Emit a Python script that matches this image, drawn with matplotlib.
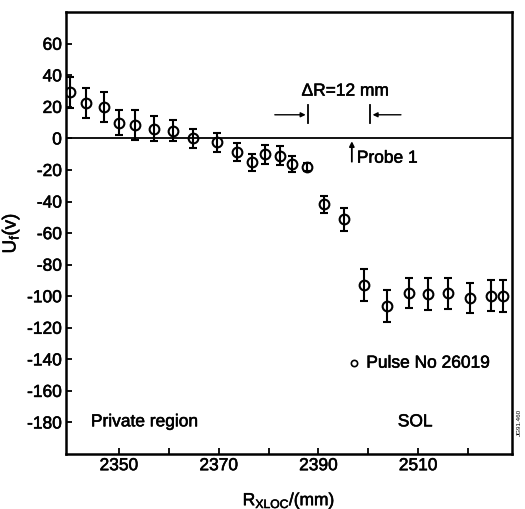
import matplotlib
matplotlib.use("Agg")
import matplotlib.pyplot as plt
import matplotlib.patheffects as pe

plt.rcParams['font.family'] = ['Liberation Sans', 'DejaVu Sans']
plt.rcParams['axes.unicode_minus'] = False

# radial position (mm) and floating potential (V)
r_mm = [2340.2, 2343.5, 2347.0, 2350.1, 2353.3, 2357.1, 2360.9, 2364.9, 2369.6,
        2373.6, 2376.7, 2379.3, 2382.3, 2384.8, 2387.8, 2391.1, 2395.2, 2399.2,
        2403.8, 2408.2, 2411.9, 2415.9, 2420.4, 2424.6, 2427.0]
u_f = [29.2, 22.7, 20.2, 10.1, 8.8, 6.1, 5.0, 0.2, -2.3,
       -8.6, -15.0, -9.9, -10.9, -16.0, -18.1, -41.8, -51.3, -92.9,
       -106.4, -98.0, -98.6, -98.2, -101.1, -99.7, -99.7]
u_err = [10.0, 9.5, 9.5, 8.0, 9.5, 8.0, 6.5, 6.0, 6.0,
         5.5, 5.4, 6.0, 6.0, 5.0, 2.6, 5.3, 7.3, 10.0,
         10.2, 9.5, 10.0, 10.0, 9.3, 9.7, 10.3]

x_ticks = [2350, 2360, 2370, 2380, 2390, 2400, 2410, 2420]
x_ticklabels = ['2350', '', '2370', '', '2390', '', '2510', '']
y_ticks = [60, 40, 20, 0, -20, -40, -60, -80, -100, -120, -140, -160, -180]

# scanned print looks heavy, thicken the glyphs a little
heavy = [pe.withStroke(linewidth=0.4, foreground='black')]
fs = 12.5

fig = plt.figure(figsize=(5.25, 5.09), dpi=100)
ax = fig.add_axes([0.1257, 0.108, 0.8495, 0.868])

ax.axhline(0, color='black', lw=1.3, zorder=1)
ax.errorbar(r_mm, u_f, yerr=u_err, fmt='o', ms=7, mfc='none', mec='black',
            mew=1.5, ecolor='black', elinewidth=1.5, capsize=3, capthick=1.5,
            color='black', zorder=3)

ax.set_xlim(2339.4, 2428.8)
ax.set_ylim(-200, 80)
ax.set_xticks(x_ticks)
ax.set_xticklabels(x_ticklabels)
ax.set_yticks(y_ticks)
ax.set_yticklabels([str(v) for v in y_ticks])
ax.tick_params(direction='in', length=4, width=1.3, labelsize=fs, pad=3)
for lab in ax.get_xticklabels() + ax.get_yticklabels():
    lab.set_path_effects(heavy)
for s in ax.spines.values():
    s.set_linewidth(1.8)

ax.set_ylabel('U$_\\mathregular{f}$(v)', fontsize=13.5, labelpad=4, path_effects=heavy)
ax.set_xlabel('R$_\\mathregular{XLOC}$/(mm)', fontsize=12.5, labelpad=13, path_effects=heavy)

# delta R annotation
ax.text(2395.4, 30, '\u0394R=12 mm', ha='center', va='center', fontsize=fs, path_effects=heavy)
ax.annotate('', xy=(2388.0, 15), xytext=(2380.7, 15),
            arrowprops=dict(arrowstyle='-|>', color='black', lw=1, mutation_scale=7))
ax.annotate('', xy=(2400.3, 15), xytext=(2407.1, 15),
            arrowprops=dict(arrowstyle='-|>', color='black', lw=1, mutation_scale=7))
ax.plot([2388.0, 2388.0], [9.5, 21.5], color='black', lw=1.3)
ax.plot([2400.3, 2400.3], [9.5, 21.5], color='black', lw=1.3)

# probe position
ax.annotate('', xy=(2396.7, 0), xytext=(2396.7, -16.5),
            arrowprops=dict(arrowstyle='-|>', color='black', lw=1.3, mutation_scale=7))
ax.text(2397.7, -12.5, 'Probe 1', ha='left', va='center', fontsize=fs, path_effects=heavy)

ax.plot([2397.2], [-142.4], 'o', ms=4.5, mfc='none', mec='black', mew=1.2)
ax.text(2399.6, -142.4, 'Pulse No 26019', ha='left', va='center', fontsize=fs, path_effects=heavy)

ax.text(2344.4, -179.6, 'Private region', ha='left', va='center', fontsize=fs, path_effects=heavy)
ax.text(2409.4, -179.6, 'SOL', ha='center', va='center', fontsize=fs, path_effects=heavy)

fig.text(0.99, 0.17, 'JG91.460', rotation=90, fontsize=4.5, ha='center', va='center')

fig.savefig('out.png', dpi=100)
